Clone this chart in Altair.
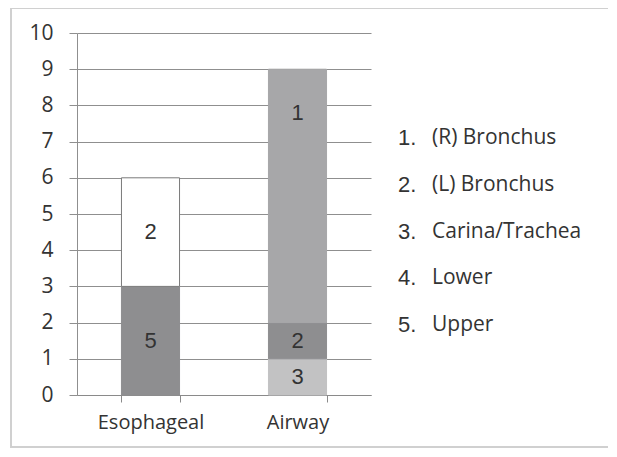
import altair as alt
import pandas as pd

# ---- data ----
groups = ["Esophageal", "Esophageal", "Airway", "Airway", "Airway"]
codes = ["5", "2", "3", "2", "1"]
counts = [3, 3, 1, 1, 7]
label_at = [1.5, 4.5, 0.5, 1.5, 7.8]   # where each number sits (value units)
segment_keys = ["Eso-5", "Eso-2", "Air-3", "Air-2", "Air-1"]
segment_fill = ["#8e8e90", "#ffffff", "#c2c2c3", "#8e8e90", "#a7a7a9"]
segment_stroke = ["#8e8e90", "#7a7a7a", "#c2c2c3", "#8e8e90", "#a7a7a9"]

legend_nums = ["1.", "2.", "3.", "4.", "5."]
legend_names = ["(R) Bronchus", "(L) Bronchus", "Carina/Trachea", "Lower", "Upper"]
category_order = ["Esophageal", "Airway"]
y_ticks = list(range(0, 11))

# stacked extents
rows = []
base = {}
for g, c, n, k, la in zip(groups, codes, counts, segment_keys, label_at):
    y0 = base.get(g, 0)
    rows.append({"group": g, "code": c, "y0": y0, "y1": y0 + n, "lab": la, "seg": k})
    base[g] = y0 + n
df = pd.DataFrame(rows)
leg = pd.DataFrame({"num": legend_nums, "name": legend_names})

W, H = 294, 362

xenc = alt.X("group:N", sort=category_order,
             scale=alt.Scale(paddingInner=0.605, paddingOuter=0.3025),
             axis=alt.Axis(title=None, tickBand="extent", labelAngle=0,
                           labelFont="Open Sans", labelFontSize=20, labelColor="#333333",
                           labelPadding=10, tickSize=7, tickColor="#8a8a8a",
                           domainColor="#8a8a8a", grid=False))
yscale = alt.Scale(domain=[0, 10], nice=False)

bars = alt.Chart(df).mark_bar(strokeWidth=1).encode(
    x=xenc,
    y=alt.Y("y1:Q", scale=yscale,
            axis=alt.Axis(title=None, values=y_ticks, grid=True, gridColor="#8f8f8f",
                          tickColor="#8f8f8f", tickSize=8, domainColor="#8f8f8f",
                          labelFont="Open Sans", labelFontSize=21, labelColor="#333333",
                          labelPadding=16)),
    y2="y0:Q",
    fill=alt.Fill("seg:N", scale=alt.Scale(domain=segment_keys, range=segment_fill), legend=None),
    stroke=alt.Stroke("seg:N", scale=alt.Scale(domain=segment_keys, range=segment_stroke), legend=None),
)

labels = alt.Chart(df).mark_text(font="Liberation Sans", fontSize=22, color="#333333",
                                 baseline="middle").encode(
    x=alt.X("group:N", sort=category_order),
    y=alt.Y("lab:Q", scale=yscale, axis=None),
    text="code:N",
)

leg_y = alt.Y("name:N", sort=legend_names,
              scale=alt.Scale(type="point", range=[105, 292], padding=0), axis=None)
leg_nums = alt.Chart(leg).mark_text(font="Liberation Sans", fontSize=22, color="#333333",
                                    align="left", baseline="middle").encode(
    x=alt.value(321), y=leg_y, text="num:N")
leg_names = alt.Chart(leg).mark_text(font="Open Sans", fontSize=21, color="#333333",
                                     align="left", baseline="middle").encode(
    x=alt.value(355), y=leg_y, text="name:N")

border = alt.Chart(leg).mark_rect(fill=None, stroke="#cfcfcf", strokeWidth=1.5).encode(
    x=alt.value(-66), x2=alt.value(533), y=alt.value(-25), y2=alt.value(414))

chart = alt.layer(bars, labels, leg_nums, leg_names, border).resolve_scale(
    y="independent"
).properties(
    width=W, height=H,
    autosize=alt.AutoSizeParams(type="none"),
    padding={"left": 69, "top": 25, "right": 237, "bottom": 54},
    background="white",
).configure_view(stroke=None)

chart.save("out.html", embed_options={"renderer": "svg", "actions": False})
